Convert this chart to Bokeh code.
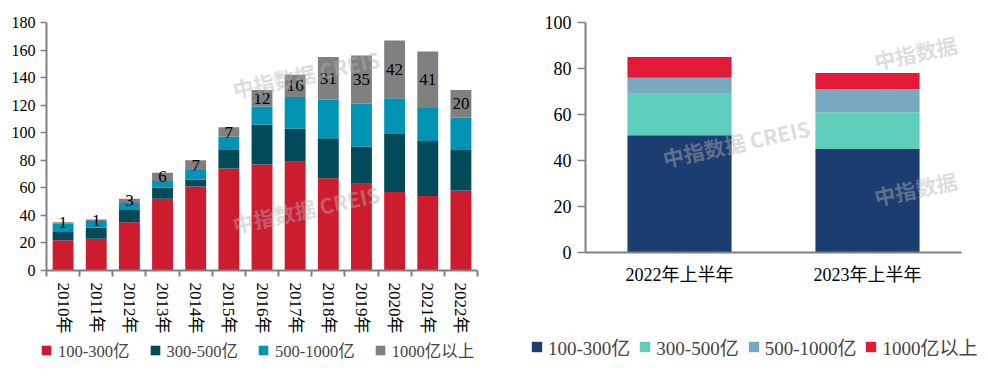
import math
from bokeh.plotting import figure
from bokeh.models import (ColumnDataSource, FixedTicker, Legend, LegendItem, Label,
                          FactorRange, Range1d)
from bokeh.layouts import row, column
from bokeh.embed import file_html
from bokeh.resources import INLINE
from bokeh.core.properties import value

# ---------------- data ----------------
years = ["2010年", "2011年", "2012年", "2013年", "2014年", "2015年", "2016年",
         "2017年", "2018年", "2019年", "2020年", "2021年", "2022年"]
y_100_300 = [22, 23, 35, 52, 61, 74, 77, 79, 67, 63, 57, 54, 58]
y_300_500 = [6, 8, 9, 8, 5, 14, 29, 24, 29, 27, 42, 40, 30]
y_500_1000 = [6, 5, 5, 5, 7, 9, 13, 23, 28, 31, 26, 24, 23]
y_1000_plus = [1, 1, 3, 6, 7, 7, 12, 16, 31, 35, 42, 41, 20]
left_yticks = [0, 20, 40, 60, 80, 100, 120, 140, 160, 180]

halves = ["2022年上半年", "2023年上半年"]
h_100_300 = [51, 45]
h_300_500 = [18, 16]
h_500_1000 = [7, 10]
h_1000_plus = [9, 7]
right_yticks = [0, 20, 40, 60, 80, 100]

series_labels = ["100-300亿", "300-500亿", "500-1000亿", "1000亿以上"]
watermark_full = "中指数据  CREIS"
watermark_short = "中指数据"

# ---------------- styles ----------------
SERIF = "'Liberation Serif', 'Noto Sans CJK SC'"
CJK = "'Noto Sans CJK SC'"
AX = "#808080"
colors_left = ["#CE1C2F", "#014A5A", "#0093B4", "#808080"]
colors_right = ["#1C3D6F", "#5ECDB9", "#78A9C0", "#E31A37"]

# watermark placements (page pixels) that fall inside each plot frame
wm_left = [(308, 72, watermark_full), (308, 207, watermark_full)]
wm_right = [(738, 142, watermark_full), (915, 52, watermark_short), (915, 188, watermark_short)]


def style_common(p):
    p.xgrid.grid_line_color = None
    p.ygrid.grid_line_color = None
    p.outline_line_color = None
    p.background_fill_color = "white"
    p.border_fill_color = "white"
    for ax in (p.xaxis[0], p.yaxis[0]):
        ax.axis_line_color = AX
        ax.axis_line_width = 2
        ax.major_tick_line_color = AX
        ax.major_tick_line_width = 1.5
        ax.major_tick_in = 0
        ax.major_label_text_font = SERIF
        ax.major_label_text_color = "black"


def add_watermarks(p, frame_left, frame_bottom, marks):
    for cx, cy, txt in marks:
        p.add_layout(Label(x=cx - frame_left, y=frame_bottom - cy,
                           x_units="screen", y_units="screen",
                           text=txt, angle=0.21,
                           text_align="center", text_baseline="middle",
                           text_font=CJK, text_font_style="bold",
                           text_font_size="21px", text_color="#b2b2b2",
                           text_alpha=0.45))


def legend_figure(width, source, x_range, colors, loc, glyph, standoff, spacing, font_size):
    # strip below a chart holding its legend; the series renderers here are hidden
    lf = figure(frame_width=width, frame_height=32, x_range=x_range, y_range=Range1d(0, 1),
                min_border=0, x_axis_location=None, y_axis_location=None,
                output_backend="svg", toolbar_location=None)
    lf.xgrid.grid_line_color = None
    lf.ygrid.grid_line_color = None
    lf.outline_line_color = None
    lf.border_fill_color = "white"
    rs = lf.vbar_stack(["a", "b", "c", "d"], x="x", width=0.5, fill_color=colors,
                       line_color=None, source=source)
    for r in rs:
        r.visible = False
    items = [LegendItem(label=lab, renderers=[r]) for lab, r in zip(series_labels, rs)]
    lf.add_layout(Legend(items=items, location=loc, orientation="horizontal",
                         glyph_width=glyph, glyph_height=glyph, label_standoff=standoff,
                         spacing=spacing, padding=0, margin=0, border_line_color=None,
                         background_fill_alpha=0, label_text_font=SERIF,
                         label_text_font_size=font_size, label_height=20,
                         inactive_fill_alpha=0))
    return lf


# ---------------- left chart ----------------
n = len(years)
lab_y = [a + b + c + d / 2 for a, b, c, d in zip(y_100_300, y_300_500, y_500_1000, y_1000_plus)]
src1 = ColumnDataSource(dict(x=list(range(n)), a=y_100_300, b=y_300_500, c=y_500_1000,
                             d=y_1000_plus, lab_y=lab_y, lab=[str(v) for v in y_1000_plus]))

p1 = figure(frame_width=431, frame_height=248,
            x_range=Range1d(-0.5, n - 0.5), y_range=Range1d(0, 180),
            min_border_left=46, min_border_right=31, min_border_top=21, min_border_bottom=69,
            output_backend="svg", toolbar_location=None)
r1 = p1.vbar_stack(["a", "b", "c", "d"], x="x", width=0.63, fill_color=colors_left,
                   line_color=None, source=src1)
p1.text(x="x", y="lab_y", text="lab", source=src1, text_align="center",
        text_baseline="middle", text_font=value(SERIF), text_font_size="17px",
        text_color="black")

style_common(p1)
p1.xaxis.ticker = FixedTicker(ticks=list(range(n)), minor_ticks=[i - 0.5 for i in range(n + 1)])
p1.xaxis.major_label_overrides = {i: y for i, y in enumerate(years)}
p1.xaxis.major_label_orientation = -math.pi / 2
p1.xaxis.major_tick_out = 0
p1.xaxis.minor_tick_out = 6
p1.xaxis.minor_tick_in = 0
p1.xaxis.minor_tick_line_color = AX
p1.xaxis.minor_tick_line_width = 2
p1.xaxis.major_label_standoff = 6
p1.xaxis.major_label_text_font_size = "17px"
p1.yaxis.ticker = FixedTicker(ticks=left_yticks)
p1.yaxis.major_tick_out = 6
p1.yaxis.major_label_standoff = 5
p1.yaxis.major_label_text_font_size = "16px"
add_watermarks(p1, 46, 269, wm_left)

# ---------------- right chart ----------------
src2 = ColumnDataSource(dict(x=halves, a=h_100_300, b=h_300_500, c=h_500_1000, d=h_1000_plus))
p2 = figure(frame_width=376, frame_height=230,
            x_range=FactorRange(*halves), y_range=Range1d(0, 100),
            min_border_left=77, min_border_right=19, min_border_top=22, min_border_bottom=86,
            output_backend="svg", toolbar_location=None)
r2 = p2.vbar_stack(["a", "b", "c", "d"], x="x", width=0.554, fill_color=colors_right,
                   line_color=None, source=src2)
style_common(p2)
p2.xaxis.major_tick_out = 0
p2.xaxis.major_label_standoff = 12
p2.xaxis.major_label_text_font_size = "18px"
p2.yaxis.ticker = FixedTicker(ticks=right_yticks)
p2.yaxis.major_tick_out = 8
p2.yaxis.major_label_standoff = 6
p2.yaxis.major_label_text_font_size = "18px"
add_watermarks(p2, 585, 252, wm_right)

# ---------------- legends (strips under each chart) ----------------
l1 = legend_figure(508, src1, Range1d(-0.5, n - 0.5), colors_left, (40, 8), 12, 6, 19, "16.5px")
l2 = legend_figure(472, src2, FactorRange(*halves), colors_right, (22, 10), 13, 5, 8, "19px")

layout = column(row(p1, p2), row(l1, l2))
open("out.html", "w").write(file_html(layout, INLINE))
